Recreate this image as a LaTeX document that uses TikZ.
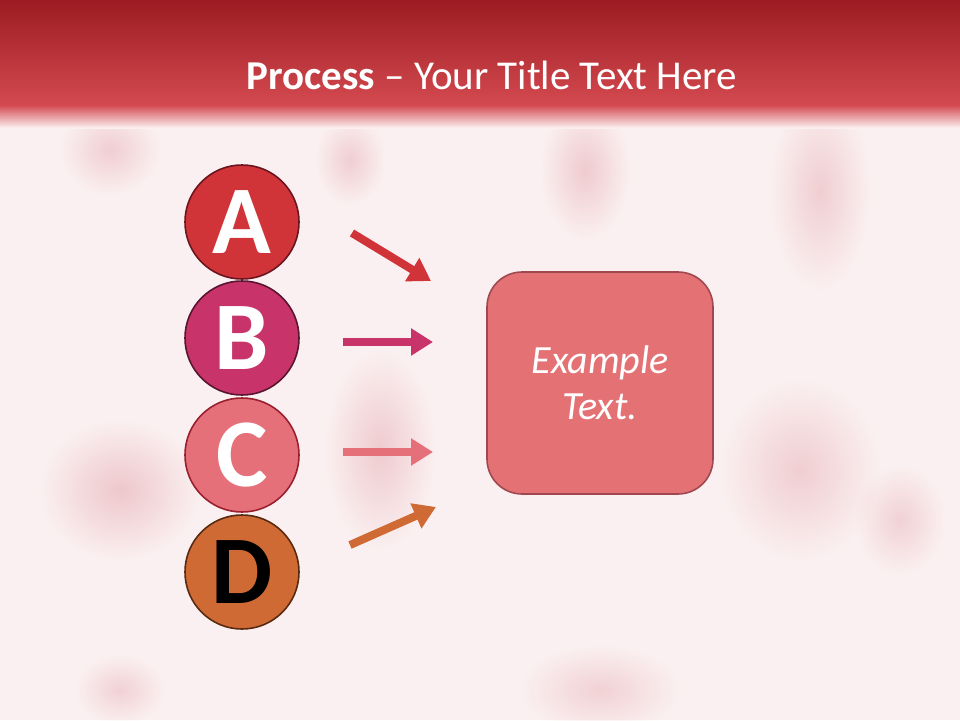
\documentclass[tikz,border=0pt]{standalone}
\usepackage{fontspec}
\setmainfont{Carlito}
\usetikzlibrary{arrows.meta,fadings}
\tikzfading[name=fuzzy,inner color=transparent!20,outer color=transparent!100]
\definecolor{bg}{HTML}{FBF0F1}
\definecolor{splat}{HTML}{E09CA2}
\definecolor{hdtop}{HTML}{9B1C22}
\definecolor{hdbot}{HTML}{D44A50}
\definecolor{cA}{HTML}{D13438}\definecolor{bA}{HTML}{6B1520}
\definecolor{cB}{HTML}{C8336A}\definecolor{bB}{HTML}{5A1530}
\definecolor{cC}{HTML}{E5707A}\definecolor{bC}{HTML}{9A2030}
\definecolor{cD}{HTML}{D06A35}\definecolor{bD}{HTML}{5A2A10}
\definecolor{boxfill}{HTML}{E47275}\definecolor{boxline}{HTML}{A04850}
\begin{document}
\begin{tikzpicture}[x=1pt,y=-1pt,
  letter/.style={circle,minimum size=114pt,inner sep=0pt,line width=1.6pt,
    font=\fontsize{97}{97}\selectfont\bfseries},
  arr/.style={line width=8pt,-{Triangle[length=22pt,width=26pt]}},
  blob/.style={fill=splat,path fading=fuzzy}]
\useasboundingbox (0,0) rectangle (960,720);
\fill[bg] (0,0) rectangle (960,720);
% faint splatter blobs
\fill[blob,opacity=0.6] (120,490) ellipse (80 and 70);
\fill[blob,opacity=0.5] (820,190) ellipse (50 and 100);
\fill[blob,opacity=0.5] (800,470) ellipse (80 and 90);
\fill[blob,opacity=0.55] (585,170) ellipse (45 and 70);
\fill[blob,opacity=0.55] (380,450) ellipse (55 and 100);
\fill[blob,opacity=0.5] (110,150) ellipse (50 and 45);
\fill[blob,opacity=0.45] (600,690) ellipse (80 and 45);
\fill[blob,opacity=0.45] (120,690) ellipse (45 and 35);
\fill[blob,opacity=0.45] (900,520) ellipse (45 and 55);
\fill[blob,opacity=0.5] (350,160) ellipse (35 and 45);
% header
\shade[top color=hdtop,bottom color=hdbot] (0,0) rectangle (960,106);
\shade[top color=hdbot,bottom color=bg] (0,105) rectangle (960,128);
\node[text=white,font=\fontsize{41}{41}\selectfont] (title) at (492,75)
  {\textbf{Process} – Your Title Text Here};
% circles
\node[letter,fill=cA,draw=bA,text=white] (A) at (242,222) {A};
\node[letter,fill=cB,draw=bB,text=white] (B) at (242,338) {B};
\node[letter,fill=cC,draw=bC,text=white] (C) at (242,455) {C};
\node[letter,fill=cD,draw=bD,text=black] (D) at (242,572) {D};
% box
\node[draw=boxline,fill=boxfill,line width=1.6pt,rounded corners=35pt,
  minimum width=226pt,minimum height=222pt,text=white,align=center,
  font=\fontsize{40}{46}\selectfont\itshape] (box) at (600,383) {Example\\Text.};
% arrows
\coordinate (a1) at (352,233); \coordinate (a2) at (431,281);
\coordinate (b1) at (343,342); \coordinate (b2) at (433,342);
\coordinate (c1) at (343,452); \coordinate (c2) at (433,452);
\coordinate (d1) at (350,545); \coordinate (d2) at (436,507);
\draw[arr,cA] (a1) -- (a2);
\draw[arr,cB] (b1) -- (b2);
\draw[arr,cC] (c1) -- (c2);
\draw[arr,cD] (d1) -- (d2);
\end{tikzpicture}
\end{document}
